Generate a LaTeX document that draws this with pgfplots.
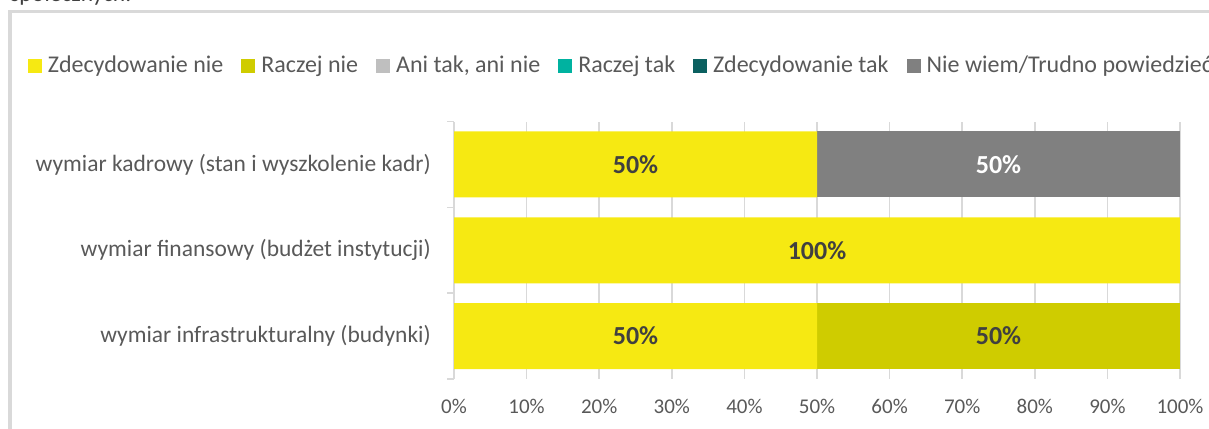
\documentclass[border=0pt]{standalone}
\usepackage{pgfplots}
\pgfplotsset{compat=1.18}
\usepackage{fontspec}
\setmainfont{Carlito}
\definecolor{txt}{HTML}{595959}
\definecolor{lbl}{HTML}{404040}
\definecolor{gridc}{HTML}{D9D9D9}
\definecolor{cZn}{HTML}{F6E912}
\definecolor{cRn}{HTML}{CFCC00}
\definecolor{cAni}{HTML}{BFBFBF}
\definecolor{cRt}{HTML}{00B2A0}
\definecolor{cZt}{HTML}{0B6060}
\definecolor{cNw}{HTML}{808080}
\newcommand{\fsLab}{\fontsize{17.6pt}{21pt}\selectfont}
\newcommand{\fsLeg}{\fontsize{18pt}{21pt}\selectfont}
\newcommand{\fsTick}{\fontsize{15.75pt}{19pt}\selectfont}
\newcommand{\fsData}{\fontsize{19.5pt}{23pt}\selectfont\bfseries}
\begin{document}
\begin{tikzpicture}[x=0.75pt,y=0.75pt]
\useasboundingbox (0,0) rectangle (1209,428);
\node[anchor=base west, inner sep=0pt, text=lbl, font=\fsLab] at (10,426) {społecznych.};
\draw[gridc, line width=2.6pt] (10,-40) -- (10,416.3) -- (1260,416.3);
\coordinate (axSW) at (454,49);
\begin{axis}[
  at={(axSW)}, anchor=south west,
  scale only axis, width=544.5pt, height=193.1pt,
  xbar stacked, bar width=49.5pt,
  xmin=0, xmax=100, ymin=-0.5, ymax=2.5,
  axis lines*=left,
  x axis line style={draw=none},
  y axis line style={draw=gridc, line width=1.1pt},
  xtick={0,10,...,100},
  xticklabel={\pgfmathprintnumber{\tick}\%},
  /pgf/number format/assume math mode=true,
  xmajorgrids, major grid style={draw=gridc, line width=1.1pt},
  ytick={0,1,2},
  yticklabels={wymiar infrastrukturalny (budynki), wymiar finansowy (budżet instytucji), wymiar kadrowy (stan i wyszkolenie kadr)},
  minor ytick={-0.5,0.5,1.5,2.5},
  major tick length=0pt, minor tick length=5.25pt,
  tick align=outside, tickpos=left,
  minor tick style={draw=gridc, line width=1.1pt},
  xticklabel style={font=\fsTick, text=txt, anchor=base, inner sep=0pt, yshift=-25.5pt},
  yticklabel style={font=\fsLab, text=txt, anchor=east, inner sep=0pt, xshift=-17.25pt},
  legend columns=6,
  legend style={at={(rel axis cs:-0.5868,1.2175)}, anchor=west, draw=none, fill=none, inner sep=0pt, outer sep=0pt,
    font=\fsLeg, text=txt,
    nodes={inner sep=0pt},
    /tikz/every odd column/.append style={column sep=4.5pt},
    /tikz/every even column/.append style={column sep=13.5pt}},
  legend image code/.code={\fill[#1] (0pt,-5.25pt) rectangle (10.5pt,5.25pt);},
  point meta=explicit,
  nodes near coords={\pgfmathfloatifflags{\pgfplotspointmeta}{0}{}{\pgfmathprintnumber{\pgfplotspointmeta}\%}},
  every node near coord/.append style={anchor=center, font=\fsData, text=lbl},
]
\addplot[fill=cZn, draw=none] table[x=x, y=y, meta=x] {
y x
2 50
1 100
0 50
};
\addlegendentry{Zdecydowanie nie}
\addplot[fill=cRn, draw=none] table[x=x, y=y, meta=x] {
y x
2 0
1 0
0 50
};
\addlegendentry{Raczej nie}
\addlegendimage{fill=cAni, draw=none}
\addlegendentry{Ani tak, ani nie}
\addlegendimage{fill=cRt, draw=none}
\addlegendentry{Raczej tak}
\addlegendimage{fill=cZt, draw=none}
\addlegendentry{Zdecydowanie tak}
\addplot[fill=cNw, draw=none, every node near coord/.append style={text=white}] table[x=x, y=y, meta=x] {
y x
2 50
1 0
0 0
};
\addlegendentry{Nie wiem/Trudno powiedzieć}
\end{axis}
\end{tikzpicture}
\end{document}
